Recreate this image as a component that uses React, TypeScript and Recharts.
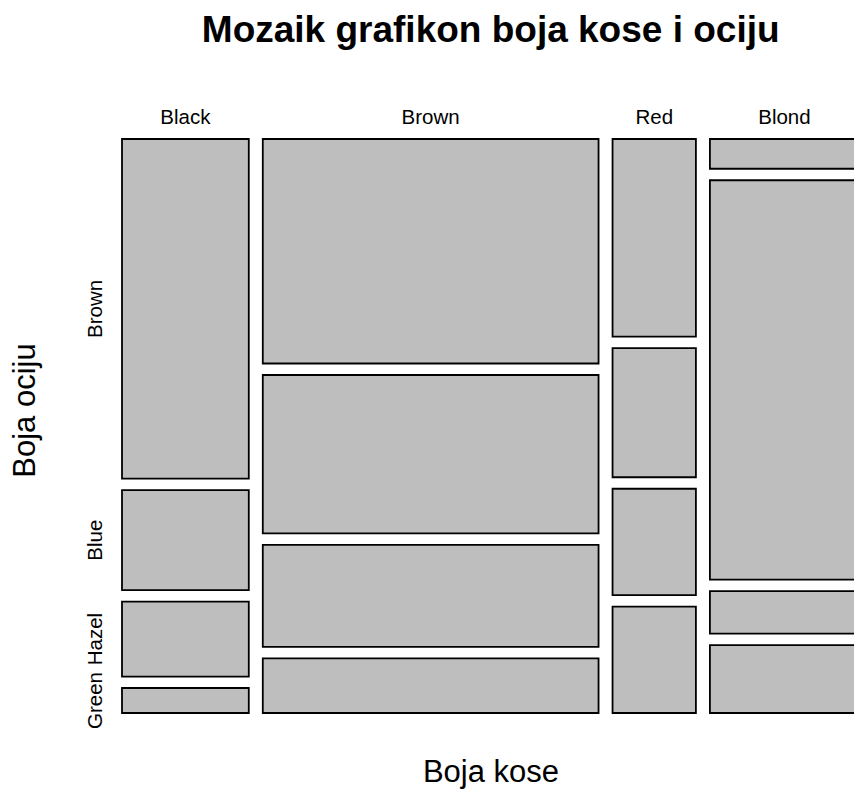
import React from 'react';
import { ComposedChart, XAxis, YAxis, ReferenceArea } from 'recharts';

// Hair colour (columns) and eye colour (rows), counts summed over sex
const hairColors = ['Black', 'Brown', 'Red', 'Blond'];
const eyeColors = ['Brown', 'Blue', 'Hazel', 'Green'];
const brownEye = [68, 119, 26, 7];
const blueEye = [20, 84, 17, 94];
const hazelEye = [15, 54, 14, 10];
const greenEye = [5, 29, 14, 16];

const title = 'Mozaik grafikon boja kose i ociju';
const xLabel = 'Boja kose';
const yLabel = 'Boja ociju';

const X_GAP = 11.925; // gap between columns, in count units
const Y_GAP = 0.0213; // gap between rows, in proportion units

const eyeSeries = [brownEye, blueEye, hazelEye, greenEye];
const hairTotals = hairColors.map((_, i) => eyeSeries.reduce((s, arr) => s + arr[i], 0));
const grandTotal = hairTotals.reduce((a, b) => a + b, 0);
const X_MAX = grandTotal + X_GAP * (hairColors.length - 1);
const Y_MAX = 1 + Y_GAP * (eyeColors.length - 1);

type Cell = { hair: string; eye: string; x1: number; x2: number; y1: number; y2: number };
const cells: Cell[] = [];
const colCenters: number[] = [];
const blackRowCenters: number[] = [];
{
  let x = 0;
  hairColors.forEach((hair, i) => {
    const w = hairTotals[i];
    colCenters.push(x + w / 2);
    let y = 0;
    eyeColors.forEach((eye, j) => {
      const h = eyeSeries[j][i] / hairTotals[i];
      cells.push({ hair, eye, x1: x, x2: x + w, y1: y, y2: y + h });
      if (i === 0) blackRowCenters.push(y + h / 2);
      y += h + Y_GAP;
    });
    x += w + X_GAP;
  });
}

const FONT = '"Liberation Sans", Arial, Helvetica, sans-serif';

const XTick = (props: any) => {
  const { x, y, payload } = props;
  let idx = 0;
  let best = Infinity;
  colCenters.forEach((c, i) => {
    const d = Math.abs(c - payload.value);
    if (d < best) { best = d; idx = i; }
  });
  return (
    <text x={x} y={y} textAnchor="middle" fontSize={20.5} fontFamily={FONT} fill="#000">
      {hairColors[idx]}
    </text>
  );
};

const YTick = (props: any) => {
  const { x, y, payload } = props;
  let idx = 0;
  let best = Infinity;
  blackRowCenters.forEach((c, i) => {
    const d = Math.abs(c - payload.value);
    if (d < best) { best = d; idx = i; }
  });
  return (
    <text x={x} y={y} textAnchor="middle" fontSize={20.5} fontFamily={FONT} fill="#000"
      transform={`rotate(-90, ${x}, ${y})`}>
      {eyeColors[idx]}
    </text>
  );
};

export default function App() {
  return (
    <div style={{ position: 'absolute', left: 0, top: 0, width: 854, height: 789, overflow: 'hidden', background: '#fff' }}>
      <ComposedChart
        width={880}
        height={789}
        data={cells}
        margin={{ top: 109, right: 21, bottom: 76, left: 92 }}
      >
        <XAxis
          xAxisId={0}
          dataKey="x2"
          type="number"
          orientation="top"
          domain={[0, X_MAX]}
          ticks={colCenters}
          interval={0}
          height={30}
          axisLine={false}
          tickLine={false}
          tickSize={0}
          tickMargin={15}
          tick={<XTick />}
          allowDataOverflow
        />
        <YAxis
          yAxisId={0}
          dataKey="y2"
          type="number"
          reversed
          domain={[0, Y_MAX]}
          ticks={blackRowCenters}
          interval={0}
          width={30}
          axisLine={false}
          tickLine={false}
          tickSize={0}
          tickMargin={20}
          tick={<YTick />}
          allowDataOverflow
        />
        {cells.map((c) => (
          <ReferenceArea
            key={`${c.hair}-${c.eye}`}
            xAxisId={0}
            yAxisId={0}
            x1={c.x1}
            x2={c.x2}
            y1={c.y1}
            y2={c.y2}
            fill="#BEBEBE"
            fillOpacity={1}
            stroke="#000"
            strokeWidth={1.8}
            ifOverflow="visible"
            isAnimationActive={false}
          />
        ))}
      </ComposedChart>
      <svg width={854} height={789} style={{ position: 'absolute', left: 0, top: 0, pointerEvents: 'none' }}>
        <text x={490.7} y={42} textAnchor="middle" fontSize={37} fontWeight="bold" fontFamily={FONT} fill="#000">
          {title}
        </text>
        <text x={491} y={782} textAnchor="middle" fontSize={31} fontFamily={FONT} fill="#000">
          {xLabel}
        </text>
        <text x={35} y={410.5} textAnchor="middle" fontSize={31} fontFamily={FONT} fill="#000"
          transform="rotate(-90, 35, 410.5)">
          {yLabel}
        </text>
      </svg>
    </div>
  );
}
